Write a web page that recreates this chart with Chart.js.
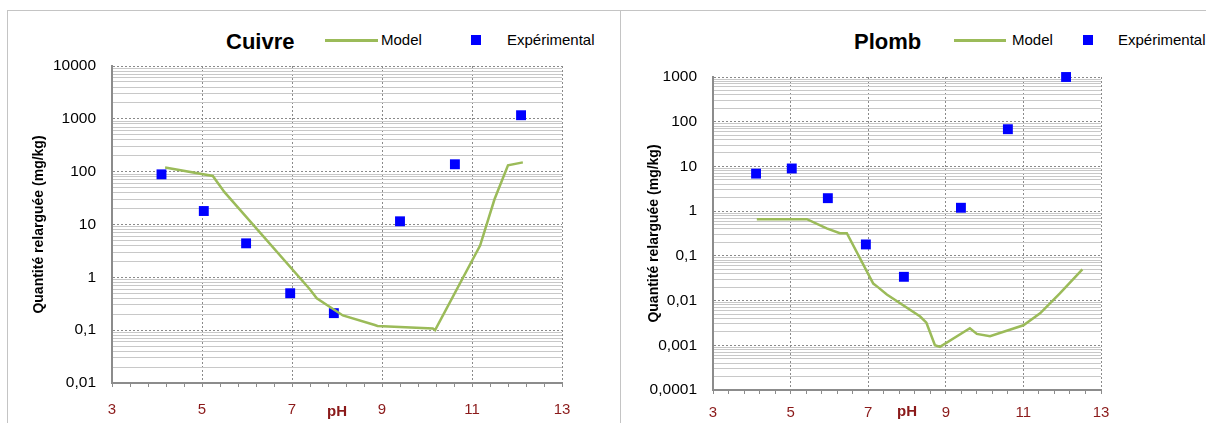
<!DOCTYPE html>
<html>
<head>
<meta charset="utf-8">
<script src="https://cdn.jsdelivr.net/npm/chart.js@4.4.1/dist/chart.umd.min.js"></script>
<style>
  body { margin: 0; background: #fff; width: 1206px; height: 423px; overflow: hidden; position: relative;
         font-family: 'Liberation Sans', Arial, sans-serif; }
  .panel { position: absolute; top: 10px; height: 420px; border-top: 1px solid #c4c4c4; border-left: 1px solid #c4c4c4; }
  canvas { position: absolute; top: 0; }
  .ttl { position: absolute; top: 31px; font-weight: bold; font-size: 22px; line-height: 22px; color: #000; }
  .lg { position: absolute; top: 32px; font-size: 15px; line-height: 15px; color: #000; }
  .lline { position: absolute; top: 39px; height: 3px; background: #9BBB59; }
  .lsq { position: absolute; top: 35px; width: 10px; height: 10px; background: #0000FF; }
</style>
</head>
<body>
<div class="panel" style="left:7px;width:613px"></div>
<div class="panel" style="left:620px;width:600px"></div>

<div class="ttl" style="left:226px">Cuivre</div>
<div class="lline" style="left:325px;width:53px"></div>
<div class="lg" style="left:381px">Model</div>
<div class="lsq" style="left:471px"></div>
<div class="lg" style="left:507px">Expérimental</div>

<div class="ttl" style="left:854px">Plomb</div>
<div class="lline" style="left:954px;width:52px"></div>
<div class="lg" style="left:1012px">Model</div>
<div class="lsq" style="left:1083px"></div>
<div class="lg" style="left:1118px">Expérimental</div>

<canvas id="cuivre" width="620" height="423" style="left:0"></canvas>
<canvas id="plomb" width="586" height="423" style="left:620px"></canvas>

<script>
// Cuivre
const cuivreExpPH = [4.1, 5.04, 5.98, 6.96, 7.93, 9.4, 10.62, 12.09];
const cuivreExp = [89, 18, 4.4, 0.5, 0.21, 11.5, 138, 1170];
const cuivreModelPH = [4.18, 5.24, 5.5, 7.4, 7.55, 8.13, 8.84, 8.9, 10.13, 10.18, 11.18, 11.5, 11.8, 12.13];
const cuivreModel = [120, 83, 41, 0.59, 0.4, 0.19, 0.125, 0.12, 0.108, 0.1, 4.0, 30, 132, 150];

// Plomb
const plombExpPH = [4.11, 5.03, 5.96, 6.94, 7.92, 9.39, 10.6, 12.1];
const plombExp = [6.9, 9.0, 1.95, 0.18, 0.034, 1.19, 68, 1000];
const plombModelPH = [4.13, 5.42, 5.93, 6.27, 6.45, 7.13, 7.25, 7.48, 8.34, 8.5, 8.72, 8.85, 9.62, 9.8, 10.14, 11.0, 11.43, 11.94, 12.52];
const plombModel = [0.66, 0.66, 0.41, 0.32, 0.32, 0.024, 0.02, 0.0137, 0.0044, 0.0032, 0.001, 0.00092, 0.0024, 0.0018, 0.0016, 0.0028, 0.0052, 0.0145, 0.05];

// axes
const xMin = 3, xMax = 13, xMinorStep = 0.4;
const xTickValues = [3, 5, 7, 9, 11, 13];
const xTickLabels = ['3', '5', '7', '9', '11', '13'];
const yExponents = [-4, -3, -2, -1, 0, 1, 2, 3, 4];
const yTickLabels = ['0,0001', '0,001', '0,01', '0,1', '1', '10', '100', '1000', '10000'];

const yTitle = 'Quantité relarguée (mg/kg)';
const xTitle = 'pH';
const modelColor = '#9BBB59';
const expColor = '#0000FF';
const xLabelColor = '#8B1A1A';

Chart.defaults.font.family = "'Liberation Sans', Arial, sans-serif";

function isDecade(v) {
  const e = Math.log10(v);
  return Math.abs(e - Math.round(e)) < 1e-9;
}
function isMajorX(v) {
  return xTickValues.some(m => Math.abs(m - v) < 1e-6);
}

function makeChart(id, o) {
  const pts = (xs, ys) => xs.map((x, i) => ({ x: x, y: ys[i] }));
  new Chart(document.getElementById(id), {
    type: 'scatter',
    data: {
      datasets: [
        {
          label: 'Model',
          data: pts(o.modelPH, o.model),
          showLine: true,
          borderColor: modelColor,
          borderWidth: 2.5,
          pointRadius: 0,
          tension: 0
        },
        {
          label: 'Expérimental',
          data: pts(o.expPH, o.exp),
          pointStyle: 'rect',
          pointRadius: 7,
          backgroundColor: expColor,
          borderWidth: 0,
          clip: false
        }
      ]
    },
    options: {
      responsive: false,
      animation: false,
      devicePixelRatio: 1,
      layout: { padding: { left: o.padLeft, top: o.top, right: o.padRight, bottom: 0 } },
      plugins: { legend: { display: false }, tooltip: { enabled: false } },
      scales: {
        x: {
          type: 'linear',
          min: xMin,
          max: xMax,
          afterBuildTicks: (scale) => {
            const t = [];
            for (let i = 0; xMin + i * xMinorStep <= xMax + 1e-9; i++) {
              t.push({ value: +(xMin + i * xMinorStep).toFixed(2) });
            }
            scale.ticks = t;
          },
          afterFit: (scale) => { scale.height = o.xHeight; },
          ticks: {
            autoSkip: false,
            maxRotation: 0,
            padding: o.xLabelPad,
            color: xLabelColor,
            font: { size: 15 },
            callback: (v) => {
              const i = xTickValues.findIndex(m => Math.abs(m - v) < 1e-6);
              return i >= 0 ? xTickLabels[i] : '';
            }
          },
          grid: {
            color: (ctx) => (ctx.tick && isMajorX(ctx.tick.value)) ? '#8a8a8a' : 'rgba(0,0,0,0)',
            tickColor: '#8c8c8c',
            tickLength: 4,
            lineWidth: 1
          },
          border: {
            color: '#8c8c8c',
            width: 2,
            dash: (ctx) => (ctx.tick && isMajorX(ctx.tick.value)) ? [2, 2] : []
          },
          title: {
            display: true,
            text: xTitle,
            color: xLabelColor,
            font: { size: 15, weight: 'bold' },
            padding: { top: 0, bottom: 2 }
          }
        },
        y: {
          type: 'logarithmic',
          min: Math.pow(10, o.yMinExp),
          max: Math.pow(10, o.yMaxExp),
          afterBuildTicks: (scale) => {
            const t = [];
            for (let e = o.yMinExp; e <= o.yMaxExp; e++) {
              for (let s = 1; s <= 9; s++) {
                if (e === o.yMaxExp && s > 1) break;
                t.push({ value: s * Math.pow(10, e), major: s === 1 });
              }
            }
            scale.ticks = t;
          },
          afterFit: (scale) => { scale.width = o.yWidth; },
          ticks: {
            autoSkip: false,
            padding: 16,
            color: '#000',
            font: { size: 15.5 },
            callback: (v) => {
              if (!isDecade(v)) return '';
              const i = yExponents.indexOf(Math.round(Math.log10(v)));
              return i >= 0 ? yTickLabels[i] : '';
            }
          },
          grid: {
            color: (ctx) => (ctx.tick && isDecade(ctx.tick.value)) ? '#8a8a8a' : '#c8c8c8',
            drawTicks: false,
            lineWidth: 1
          },
          border: {
            color: '#8c8c8c',
            width: 2,
            dash: (ctx) => (ctx.tick && isDecade(ctx.tick.value)) ? [2, 2] : []
          },
          title: {
            display: true,
            text: yTitle,
            color: '#000',
            font: { size: 14, weight: 'bold' },
            padding: { top: o.yTitlePad, bottom: 0 }
          }
        }
      }
    }
  });
}

makeChart('cuivre', {
  expPH: cuivreExpPH, exp: cuivreExp, modelPH: cuivreModelPH, model: cuivreModel,
  yMinExp: -2, yMaxExp: 4,
  padLeft: 20, padRight: 58, top: 66, xHeight: 40, yWidth: 92, yTitlePad: 11, xLabelPad: 14
});

makeChart('plomb', {
  expPH: plombExpPH, exp: plombExp, modelPH: plombModelPH, model: plombModel,
  yMinExp: -4, yMaxExp: 3,
  padLeft: 16, padRight: 105, top: 77, xHeight: 33, yWidth: 77, yTitlePad: 10, xLabelPad: 10
});
</script>
</body>
</html>
